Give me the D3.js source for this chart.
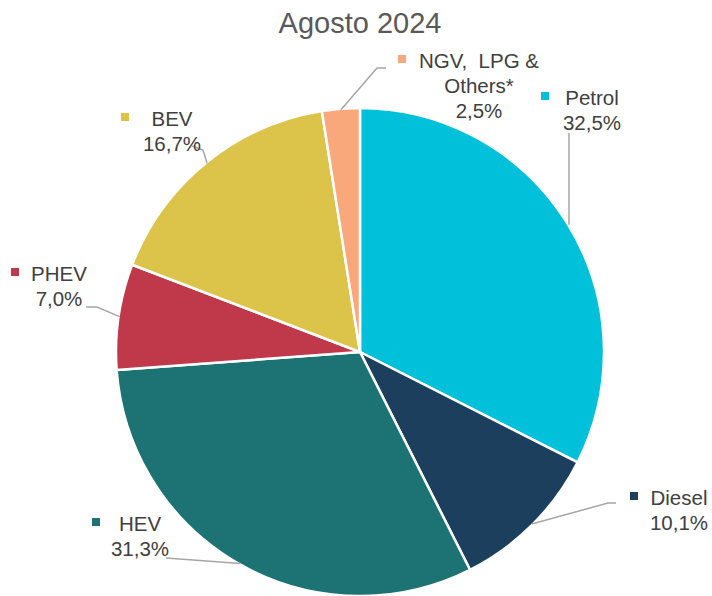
<!DOCTYPE html>
<html>
<head>
<meta charset="utf-8">
<script src="https://cdn.jsdelivr.net/npm/d3@7"></script>
<style>
  body { margin: 0; background: #fff; }
  text { font-family: "Liberation Sans", Arial, sans-serif; }
</style>
</head>
<body>
<div id="chart"></div>
<script>
// Data
const categories = ['Petrol', 'Diesel', 'HEV', 'PHEV', 'BEV', 'NGV, LPG & Others*']
const shares = [32.5, 10.1, 31.3, 7.0, 16.7, 2.5]
const valueLabels = ['32,5%', '10,1%', '31,3%', '7,0%', '16,7%', '2,5%']
const colours = ['#00c0da', '#1c3f5e', '#1d7373', '#c0394a', '#dcc44a', '#f8a87a']

const width = 712,
  height = 596,
  cx = 360,
  cy = 352,
  radius = 244

// label layout: name lines, centre x, first baseline, marker x, leader bend points (label side)
const labelLayout = [
  { lines: ['Petrol'], x: 592, y: 105, mx: 541, leader: [[569, 133]] },
  { lines: ['Diesel'], x: 679, y: 505, mx: 630, leader: [[616, 503], [608, 503]] },
  { lines: ['HEV'], x: 140, y: 531, mx: 92, leader: [[166, 558]] },
  { lines: ['PHEV'], x: 59, y: 281, mx: 11, leader: [[86, 307], [97, 307]] },
  { lines: ['BEV'], x: 172, y: 126, mx: 121, leader: [[192, 146], [203, 150]] },
  { lines: ['NGV,  LPG &', 'Others*'], x: 479, y: 68, mx: 398, leader: [[386, 68], [377, 68]] }
]

const svg = d3.select('#chart')
  .append('svg')
  .attr('width', width)
  .attr('height', height)

svg.append('text')
  .attr('x', cx)
  .attr('y', 33)
  .attr('text-anchor', 'middle')
  .attr('fill', '#595959')
  .style('font-size', '29px')
  .text('Agosto 2024')

const pie = d3.pie().sort(null).value(d => d)
const arcs = pie(shares)

const arc = d3.arc().innerRadius(0).outerRadius(radius)

const g = svg.append('g').attr('transform', `translate(${cx},${cy})`)

g.selectAll('path.slice')
  .data(arcs)
  .enter()
  .append('path')
  .attr('class', 'slice')
  .attr('d', arc)
  .attr('fill', (d, i) => colours[i])
  .attr('stroke', '#fff')
  .attr('stroke-width', 2.5)
  .attr('stroke-linejoin', 'round')

// leader lines end at the middle of each slice's outer edge
let edgePoint = (d) => {
  const a = (d.startAngle + d.endAngle) / 2
  return [cx + Math.sin(a) * (radius - 1), cy - Math.cos(a) * (radius - 1)]
}

const line = d3.line()
labelLayout.forEach((l, i) => {
  const end = edgePoint(arcs[i])
  let pts = l.leader.concat([end])
  if (i === 0) pts = [l.leader[0], [l.leader[0][0], end[1]]]
  svg.append('path')
    .attr('d', line(pts))
    .attr('fill', 'none')
    .attr('stroke', '#a6a6a6')
    .attr('stroke-width', 1.5)
})

// labels
const fs = 20.5
labelLayout.forEach((l, i) => {
  const t = svg.append('text')
    .attr('text-anchor', 'middle')
    .attr('fill', '#404040')
    .style('font-size', fs + 'px')
  const all = l.lines.concat([valueLabels[i]])
  all.forEach((s, k) => {
    t.append('tspan')
      .attr('x', l.x)
      .attr('y', l.y + k * 25)
      .style('white-space', 'pre')
      .text(s)
  })
  svg.append('rect')
    .attr('x', l.mx)
    .attr('y', l.y - 13)
    .attr('width', 8)
    .attr('height', 8)
    .attr('fill', colours[i])
})
</script>
</body>
</html>
